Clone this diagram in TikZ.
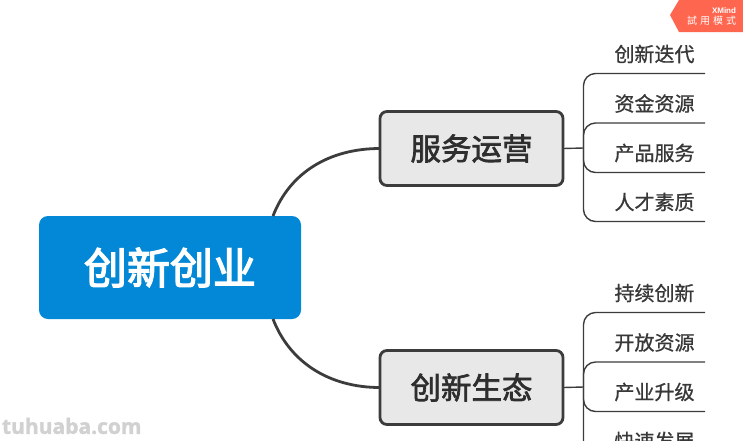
\documentclass[tikz,border=0pt]{standalone}
\usepackage{fontspec}
\setmainfont{Liberation Sans}
\newfontfamily\cjkroot[FakeBold=3]{Noto Sans CJK SC}
\newfontfamily\cjktopic[FakeBold=2.2]{Noto Sans CJK SC}
\newfontfamily\cjkleaf[FakeBold=0.8]{Noto Sans CJK SC}
\newfontfamily\cjktc{Noto Sans CJK TC}
\newfontfamily\wm[BoldFeatures={FakeBold=1.5}]{Open Sans}
\definecolor{ink}{HTML}{3C3C3C}
\definecolor{blue1}{HTML}{0288D6}
\definecolor{badge}{HTML}{FF6650}
\tikzset{
  every node/.style={inner sep=0pt,outer sep=0pt},
  rootbox/.style={fill=blue1,rounded corners=9pt,minimum width=262pt,minimum height=103pt,text=white,font=\cjkroot\fontsize{43}{46}\selectfont},
  topicbox/.style={draw=ink,line width=2.8pt,fill=black!9,rounded corners=7pt,minimum width=183pt,minimum height=74pt,text=black!82,font=\cjktopic\fontsize{30.5}{34}\selectfont},
  leaflabel/.style={text=black!78,font=\cjkleaf\fontsize{20}{24}\selectfont},
  mainlink/.style={draw=ink,line width=2.8pt},
  leaflink/.style={draw=ink,line width=1.4pt,rounded corners=12pt},
}
\begin{document}
\begin{tikzpicture}[x=1pt,y=-1pt]
\useasboundingbox (0,0) rectangle (743,440);
\clip (0,0) rectangle (743,440);
\fill[white] (0,0) rectangle (743,440);
% badge
\fill[badge] (679,0) -- (670,15) -- (679,32) -- (743,32) -- (743,0) -- cycle;
\node[anchor=east,text=white,font=\bfseries\fontsize{8}{9}\selectfont] (bx) at (736,10.5) {XMind};
\node[anchor=east,text=white,font=\cjktc\fontsize{10}{11}\selectfont] (bt) at (736,20.5) {試\hspace{3pt}用\hspace{3pt}模\hspace{3pt}式};
% nodes
\node[rootbox] (root) at (170,267.5) {创新创业};
\node[topicbox] (t1) at (471.5,148.5) {服务运营};
\node[topicbox] (t2) at (471.5,387.5) {创新生态};
\coordinate (r1) at (273,216);
\coordinate (r2) at (273,319);
\draw[mainlink] (r1) .. controls (290,172) and (330,148.5) .. (t1.west);
\draw[mainlink] (r2) .. controls (290,363) and (330,387.5) .. (t2.west);
% leaves group 1
\node[leaflabel] (a1) at (654.5,54) {创新迭代};
\node[leaflabel] (a2) at (654.5,103.5) {资金资源};
\node[leaflabel] (a3) at (654.5,153) {产品服务};
\node[leaflabel] (a4) at (654.5,202) {人才素质};
\coordinate (ae1) at (705,73.5);
\coordinate (ae2) at (705,123);
\coordinate (ae3) at (705,172.5);
\coordinate (ae4) at (705,221.5);
\coordinate (aj) at (583.5,148);
\draw[leaflink] (t1.east) -- (aj);
\draw[leaflink] (aj) -- (583.5,73.5) -- (ae1);
\draw[leaflink] (aj) -- (583.5,123) -- (ae2);
\draw[leaflink] (aj) -- (583.5,172.5) -- (ae3);
\draw[leaflink] (aj) -- (583.5,221.5) -- (ae4);
% leaves group 2
\node[leaflabel] (b1) at (654.5,293) {持续创新};
\node[leaflabel] (b2) at (654.5,342.5) {开放资源};
\node[leaflabel] (b3) at (654.5,392) {产业升级};
\node[leaflabel] (b4) at (654.5,441) {快速发展};
\coordinate (be1) at (705,312.5);
\coordinate (be2) at (705,362);
\coordinate (be3) at (705,411.5);
\coordinate (be4) at (705,460.5);
\coordinate (bj) at (583.5,387);
\draw[leaflink] (t2.east) -- (bj);
\draw[leaflink] (bj) -- (583.5,312.5) -- (be1);
\draw[leaflink] (bj) -- (583.5,362) -- (be2);
\draw[leaflink] (bj) -- (583.5,411.5) -- (be3);
\draw[leaflink] (bj) -- (583.5,460.5) -- (be4);
% watermark
\node[anchor=west,text=black!18,font=\wm\bfseries\fontsize{21}{24}\selectfont] (wm) at (2,426) {tuhuaba.com};
\end{tikzpicture}
\end{document}
